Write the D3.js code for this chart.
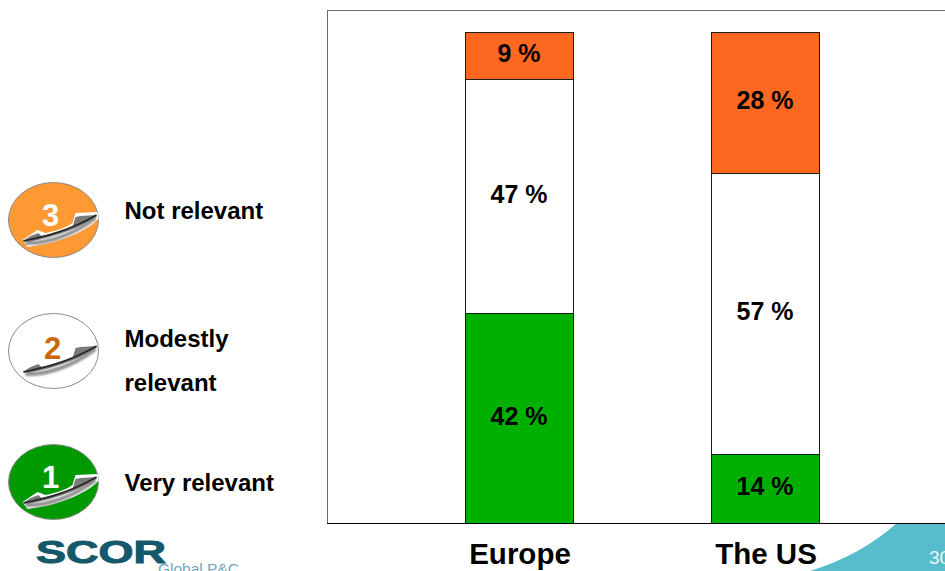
<!DOCTYPE html>
<html><head><meta charset="utf-8">
<script src="https://cdnjs.cloudflare.com/ajax/libs/d3/7.8.5/d3.min.js"></script>
<style>html,body{margin:0;padding:0;background:#fff;overflow:hidden}svg{display:block}text{font-family:"Liberation Sans",Arial,sans-serif}</style>
</head><body><svg id="c" width="945" height="571"></svg>
<script>
const regions = ["Europe", "The US"];
const levels = ["Very relevant", "Modestly relevant", "Not relevant"];
const veryRelevant = [42, 14];
const modestlyRelevant = [47, 56.7];
const notRelevant = [9.4, 28.4];
const levelColors = ["#00b000", "#ffffff", "#ff6820"];
const legendNumbers = ["3", "2", "1"];
const legendLines = [["Not relevant"], ["Modestly", "relevant"], ["Very relevant"]];
const legendFill = ["#ff9933", "#ffffff", "#009900"];
const legendNumberFill = ["#ffffff", "#cc6600", "#ffffff"];

const svg = d3.select("#c");
const table = regions.map((r, i) => ({region: r, 0: veryRelevant[i], 1: modestlyRelevant[i], 2: notRelevant[i]}));
const series = d3.stack().keys([0, 1, 2]).offset(d3.stackOffsetExpand)(table);
const rawValues = [veryRelevant, modestlyRelevant, notRelevant];

const x = d3.scaleBand().domain(regions).range([465, 819]).paddingInner(138 / 246).paddingOuter(0);
const y = d3.scaleLinear().domain([0, 1]).range([523, 32]);

// footer swoosh
svg.append("path").attr("fill", "#57bdcc")
  .attr("d", "M810,571 C845,560 872,545 897,523 L945,523 L945,571 Z");
svg.append("text").attr("x", 929).attr("y", 564).attr("font-size", 19).attr("fill", "#e8f6f8").text("30");

// plot frame
svg.append("path").attr("fill", "none").attr("stroke", "#6a6a6a").attr("stroke-width", 1)
  .attr("d", "M945.5,10.5 H327.5 V523.5").attr("shape-rendering", "crispEdges");

// bars
const groups = svg.selectAll("g.s").data(series).join("g").attr("class", "s")
  .attr("fill", (d, i) => levelColors[i]);
groups.selectAll("rect").data(d => d).join("rect")
  .attr("x", d => x(d.data.region) + 0.5)
  .attr("width", x.bandwidth())
  .attr("y", d => Math.round(y(d[1])) + 0.5)
  .attr("height", d => Math.round(y(d[0])) - Math.round(y(d[1])))
  .attr("stroke", "#1a1a1a").attr("stroke-width", 1);
groups.each(function (s, i) {
  d3.select(this).selectAll("text").data(s).join("text")
    .attr("x", d => x(d.data.region) + x.bandwidth() / 2)
    .attr("y", d => (y(d[0]) + y(d[1])) / 2 + 7)
    .attr("text-anchor", "middle").attr("font-size", 25).attr("font-weight", "bold").attr("fill", "#000")
    .text((d, j) => d3.format(".0f")(rawValues[i][j]) + " %");
});

// baseline
svg.append("line").attr("x1", 327).attr("x2", 945).attr("y1", 523.5).attr("y2", 523.5)
  .attr("stroke", "#000").attr("stroke-width", 1);

// category axis
const axis = svg.append("g").attr("transform", "translate(1,523)")
  .call(d3.axisBottom(x).tickSize(0).tickPadding(20));
axis.select(".domain").remove();
axis.selectAll("text").attr("font-family", '"Liberation Sans",Arial,sans-serif')
  .attr("font-size", 29.5).attr("font-weight", "bold").attr("fill", "#000");

// legend
const defs = svg.append("defs");
const blur = defs.append("filter").attr("id", "b").attr("x", "-20%").attr("y", "-50%").attr("width", "140%").attr("height", "200%");
blur.append("feGaussianBlur").attr("stdDeviation", 1.3);
const cy = [220, 351, 482];
const numberDx = [-3, -1, -3];
const numberDy = [6, 8, 6];
const legend = svg.selectAll("g.l").data(legendNumbers).join("g").attr("class", "l")
  .attr("transform", (d, i) => `translate(53.5,${cy[i]})`);
legend.append("ellipse").attr("rx", 45).attr("ry", 37.5)
  .attr("fill", (d, i) => legendFill[i]).attr("stroke", "#8a8a8a").attr("stroke-width", 1);
// white halo
legend.filter((d, i) => i !== 1).append("path")
  .attr("d", "M-31,20 L-16,10 L-8,13 C2,11 12,8 19,3 L22,-7 L44,-8 L45,-1 C30,14 0,24 -26,27 Z")
  .attr("fill", "#fff");
// soft shadow under the handle
legend.append("path").attr("d", "M-28,23 C-8,24 18,16 42,-2").attr("fill", "none")
  .attr("stroke", "#8c8c8c").attr("stroke-width", 4).attr("filter", "url(#b)");
// handle
legend.append("path")
  .attr("d", "M-31,21 L-23,16 L-15,13 L-12,16 C-2,14 10,11 19,7 L22,-3 L27,-4 L43,-5 L43,-3 C28,7 5,16 -25,22 Z")
  .attr("fill", "#7a7a7a");
legend.append("path").attr("d", "M-30,21 C-12,17 14,12 43,-5").attr("fill", "none").attr("stroke", "#262626")
  .attr("stroke-width", 1.6);
legend.append("text").attr("x", (d, i) => numberDx[i]).attr("y", (d, i) => numberDy[i]).attr("text-anchor", "middle")
  .attr("font-size", 31).attr("font-weight", "bold").attr("fill", (d, i) => legendNumberFill[i]).text(d => d);

const legendY = [[219], [347, 391], [491]];
svg.selectAll("g.lt").data(legendLines).join("g").attr("class", "lt")
  .each(function (lines, i) {
    d3.select(this).selectAll("text").data(lines).join("text")
      .attr("x", 124.5).attr("y", (d, j) => legendY[i][j])
      .attr("font-size", 24).attr("font-weight", "bold").attr("fill", "#000").text(d => d);
  });

// logo
const logo = svg.append("g");
logo.append("text").attr("x", 36).attr("y", 563).attr("font-size", 32).attr("font-weight", "bold")
  .attr("fill", "#14596b").attr("stroke", "#14596b").attr("stroke-width", 1)
  .attr("textLength", 130).attr("lengthAdjust", "spacingAndGlyphs").text("SCOR");
logo.append("text").attr("x", 158).attr("y", 574).attr("font-size", 15.5).attr("fill", "#6fa8ba").text("Global P&C");
</script></body></html>
